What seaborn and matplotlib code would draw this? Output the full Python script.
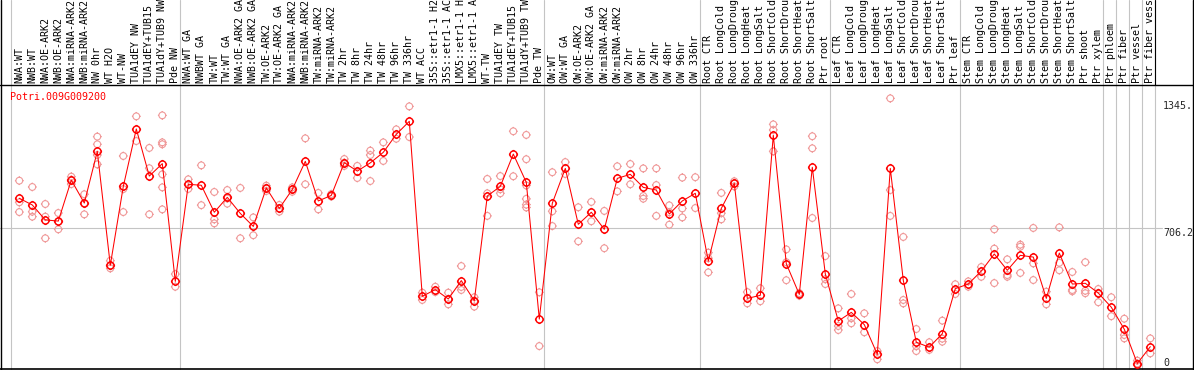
import numpy as np
import pandas as pd
import matplotlib
matplotlib.use("Agg")
import matplotlib.pyplot as plt
import matplotlib.transforms as mtransforms
from matplotlib.path import Path
import seaborn as sns

# sample labels, one column each
samples = [
    "NWA:WT", "NWB:WT", "NWA:OE-ARK2", "NWB:OE-ARK2", "NWA:miRNA-ARK2", "NWB:miRNA-ARK2",
    "NW 0hr", "WT H2O", "WT-NW", "TUA1dEY NW", "TUA1dEY+TUB15 NW", "TUA1dY+TUB9 NW", "Pde NW",
    "NWA:WT GA", "NWBWT GA", "TW:WT", "TW:WT GA", "NWA:OE-ARK2 GA", "NWB:OE-ARK2 GA",
    "TW:OE-ARK2", "TW:OE-ARK2 GA", "NWA:miRNA-ARK2", "NWB:miRNA-ARK2", "TW:miRNA-ARK2",
    "TW:miRNA-ARK2", "TW 2hr", "TW 8hr", "TW 24hr", "TW 48hr", "TW 96hr", "TW 336hr",
    "WT ACC", "35S::etr1-1 H2O", "35S::etr1-1 ACC", "LMX5::etr1-1 H2O", "LMX5::etr1-1 ACC",
    "WT-TW", "TUA1dEY TW", "TUA1dEY+TUB15 TW", "TUA1dY+TUB9 TW", "Pde TW",
    "OW:WT", "OW:WT GA", "OW:OE-ARK2", "OW:OE-ARK2 GA", "OW:miRNA-ARK2", "OW:miRNA-ARK2",
    "OW 2hr", "OW 8hr", "OW 24hr", "OW 48hr", "OW 96hr", "OW 336hr",
    "Root CTR", "Root LongCold", "Root LongDrought", "Root LongHeat", "Root LongSalt",
    "Root ShortCold", "Root ShortDrought", "Root ShortHeat", "Root ShortSalt", "Ptr root",
    "Leaf CTR", "Leaf LongCold", "Leaf LongDrought", "Leaf LongHeat", "Leaf LongSalt",
    "Leaf ShortCold", "Leaf ShortDrought", "Leaf ShortHeat", "Leaf ShortSalt", "Ptr leaf",
    "Stem CTR", "Stem LongCold", "Stem LongDrought", "Stem LongHeat", "Stem LongSalt",
    "Stem ShortCold", "Stem ShortDrought", "Stem ShortHeat", "Stem ShortSalt",
    "Ptr shoot", "Ptr xylem", "Ptr phloem", "Ptr fiber", "Ptr vessel", "Ptr fiber vessel",
]

# first column of each experiment block
group_starts = [0, 13, 41, 53, 63, 73, 84, 85, 86, 87, 88]

mean_expr = [
    863, 828, 750, 744, 958, 838, 1108, 513, 925, 1225, 979, 1044, 429,
    936, 931, 790, 868, 784, 716, 917, 810, 909, 1056, 849, 878, 1049, 1005, 1048,
    1103, 1197, 1265, 351, 386, 337, 433, 328, 875, 925, 1094, 946, 232,
    837, 1019, 727, 790, 701, 967, 988, 920, 906, 781, 849, 889,
    535, 810, 941, 340, 356, 1192, 521, 361, 1025, 468,
    222, 267, 203, 48, 1019, 434, 111, 85, 156, 391,
    415, 483, 572, 487, 565, 556, 340, 577, 415, 419, 368,
    294, 179, 0, 88,
]

replicates = [
    [955, 842, 791], [922, 793, 767], [833, 767, 654], [786, 741, 701],
    [976, 960, 937], [884, 837, 779], [1185, 1145, 1089, 1040], [537, 510, 497],
    [1084, 911, 791], [1291, 1162], [1126, 1020, 779],
    [1296, 1155, 1145, 988, 920, 805], [467, 401],
    [962, 936, 912], [1035, 827], [896, 753, 732], [906, 862, 835], [917, 654],
    [763, 670], [929, 917, 901], [828, 810, 793], [920, 909, 897], [1176, 936],
    [891, 805], [885, 872], [1068, 1049, 1032], [1032, 969], [1112, 1089, 953],
    [1155, 1058], [1223, 1174], [1343, 1183], [370, 332], [401, 373],
    [370, 337, 309], [509, 400, 384], [346, 328, 297], [964, 889, 771],
    [979, 910, 889], [1213, 978], [1194, 1067, 930, 860, 830, 815], [372, 91],
    [999, 795, 718], [1052, 990], [816, 638], [844, 790, 743], [797, 602],
    [1030, 899], [1042, 936], [1019, 875, 861], [1019, 932, 771], [826, 790, 725],
    [971, 810, 763], [973, 812],
    [579, 550, 476], [891, 785, 753], [952, 941, 925], [373, 314], [393, 325],
    [1249, 1220, 1108], [596, 529, 435], [368, 361, 354], [1187, 1124, 760],
    [561, 440, 415],
    [288, 196, 175], [363, 236, 210], [262, 163], [65, 22], [1385, 906, 771],
    [661, 332, 314], [180, 90, 65], [111, 71], [224, 130, 114], [414, 363],
    [429, 401], [504, 453], [701, 600, 420], [544, 462, 453], [621, 610, 473],
    [708, 523, 436], [375, 309], [711, 526, 487], [478, 384, 377], [529, 380, 367],
    [389, 368, 320], [346, 247], [234, 149, 131], [15, 0], [131, 53],
]

gene = "Potri.009G009200"
y_ticks = [0, 706.2, 1345.]
y_tick_text = ["0", "706.2", "1345."]

W, H = 1194, 370

sns.set_style("white")
plt.rcParams["font.family"] = ["DejaVu Sans Mono", "DejaVu Sans"]

fig = plt.figure(figsize=(W / 100, H / 100), dpi=100)
ax = fig.add_axes([0, 0, 1, 1])

# pixel layout: column i centred at 19.3 + 13*i, value 0 at row 363.5, 706.2 at row 228.3
px_per_val = (363.5 - 228.3) / 706.2
ax.set_xlim(-19.3 / 13, (W - 19.3) / 13)
ax.set_ylim((363.5 - H) / px_per_val, 363.5 / px_per_val)
ax.axis("off")

trans_xdata = mtransforms.blended_transform_factory(ax.transData, ax.transAxes)
trans_ydata = mtransforms.blended_transform_factory(ax.transAxes, ax.transData)

grey = "#c4c4c4"
header_y = 1 - 85 / H

# block separators
for b in group_starts:
    ax.axvline(b - 0.64, color=grey, lw=0.8, zorder=1)
ax.axvline(group_starts[-1] - 0.64, ymin=header_y, ymax=1, color="black", lw=0.8, zorder=2)

# header / frame
ax.axhline(706.2, xmin=0, xmax=1162 / W, color=grey, lw=0.8, zorder=1)
ax.axhline(ax.get_ylim()[1] - 85 / px_per_val, color="black", lw=1.0, zorder=2)
ax.plot([1 / W, 1 / W], [0, 1], transform=ax.transAxes, color="black", lw=1.0, zorder=2)
ax.plot([1192.5 / W, 1192.5 / W], [0, 1], transform=ax.transAxes, color="black", lw=1.0, zorder=2)
ax.plot([0, 1], [1.5 / H, 1.5 / H], transform=ax.transAxes, color="black", lw=1.2, zorder=2)

# ring marker with little ticks
ring = Path.make_compound_path(
    Path.unit_circle(),
    Path([[0, 1], [0, 1.3], [0, -1], [0, -1.3], [1, 0], [1.3, 0], [-1, 0], [-1.3, 0]],
         [Path.MOVETO, Path.LINETO] * 4),
)

rep_df = pd.DataFrame(
    [(i, v) for i, vals in enumerate(replicates) for v in vals], columns=["sample", "expr"]
)
sns.scatterplot(data=rep_df, x="sample", y="expr", marker=ring, s=40,
                facecolor="none", edgecolor="#f09a9a", linewidth=0.8, zorder=3, ax=ax)

mean_df = pd.DataFrame({"sample": np.arange(len(mean_expr)), "expr": mean_expr})
sns.lineplot(data=mean_df, x="sample", y="expr", color="red", lw=0.75,
             marker=ring, markersize=6.6, markerfacecolor="none",
             markeredgecolor="red", markeredgewidth=1.05, zorder=4, ax=ax)
ax.axis("off")

# column labels
for i, lab in enumerate(samples):
    ax.text(i, 1 - 83 / H, lab, rotation=90, ha="center", va="bottom",
            fontsize=7.2, color="black", transform=trans_xdata)

ax.text(10 / W, 1 - 97 / H, gene, color="red", fontsize=7.2, va="center", ha="left",
        transform=ax.transAxes)

for v, t in zip(y_ticks, y_tick_text):
    ax.text(1163 / W, v, t, fontsize=7.2, va="top" if t == "706.2" else "center",
            ha="left", transform=trans_ydata)

fig.savefig("out.png", dpi=100)
